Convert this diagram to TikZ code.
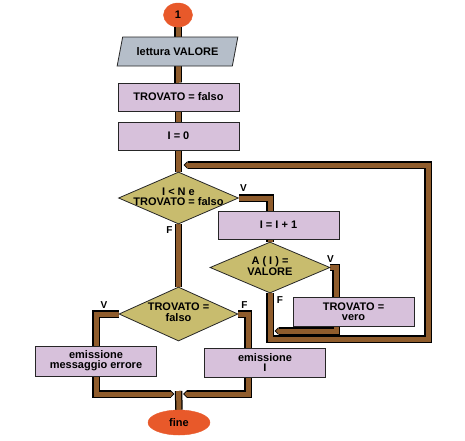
\documentclass[tikz,border=0pt]{standalone}
\usepackage{fontspec}
\setmainfont{Liberation Sans}
\usetikzlibrary{shapes.geometric,arrows.meta,backgrounds}
\definecolor{pipebrown}{HTML}{8F5C2C}
\definecolor{boxlilac}{HTML}{D7C1DB}
\definecolor{diaolive}{HTML}{C8BC6E}
\definecolor{iogray}{HTML}{B5BEC9}
\definecolor{termorange}{HTML}{E8592A}
\newcommand\flowfont{\fontsize{11}{10}\selectfont\bfseries}
\newcommand\lblfont{\fontsize{10}{10}\selectfont\bfseries}
\newcommand\diatext[2][10]{\makebox[0pt]{\fontsize{11}{#1}\selectfont\bfseries\begin{tabular}{@{}c@{}}#2\end{tabular}}}
\tikzset{
  boxnode/.style={rectangle, draw=black!85, line width=0.8pt, fill=boxlilac,
    minimum width=121pt, minimum height=28pt, inner sep=0pt, align=center, font=\flowfont},
  dianode/.style={diamond, draw=black!85, line width=0.8pt, fill=diaolive,
    minimum width=120pt, minimum height=52pt, inner sep=0pt},
  ionode/.style={trapezium, trapezium left angle=63, trapezium right angle=117,
    trapezium stretches=true, draw=black!85, line width=0.8pt, fill=iogray,
    minimum width=121pt, minimum height=29pt, inner sep=0pt, font=\flowfont},
  termnode/.style={ellipse, fill=termorange, draw=termorange, inner sep=0pt, font=\flowfont},
  lblnode/.style={inner sep=0pt, font=\lblfont},
  pipeout/.style={draw=black, line width=7.5pt, line join=miter},
  pipein/.style={draw=pipebrown, line width=5pt, line join=miter},
}
\newcommand\pipe[1]{\draw[pipeout]#1;\draw[pipein]#1;}
\newcommand\pipetip[1]{\draw[pipeout,-{Triangle[length=4pt,width=7.5pt,line width=0pt]}]#1;\draw[pipein,shorten >=1.3pt,-{Triangle[length=2.6pt,width=5pt,line width=0pt]}]#1;}
\begin{document}
\begin{tikzpicture}[x=1pt,y=-1pt]
\useasboundingbox (0,0) rectangle (465,440);
% nodes
\node[termnode, minimum width=29pt, minimum height=24pt] (start) at (178,15) {1};
\node[ionode] (read) at (177.5,51.5) {lettura VALORE};
\node[boxnode] (b1) at (178.5,97) {TROVATO = falso};
\node[boxnode] (b2) at (178.5,136) {I = 0};
\node[dianode] (d1) at (178.5,198) {\diatext[8.5]{I < N e\\TROVATO = falso}};
\node[boxnode] (inc) at (278.5,225) {I = I + 1};
\node[dianode, minimum height=51pt] (d2) at (270,267.5) {\diatext{A ( I ) =\\VALORE}};
\node[boxnode, minimum height=29pt] (vero) at (353.5,311.5) {TROVATO =\\vero};
\node[dianode, minimum width=119pt, minimum height=54pt] (d3) at (178.5,314) {\diatext{TROVATO =\\falso}};
\node[boxnode, minimum height=30pt] (err) at (96,361) {emissione\\messaggio errore};
\node[boxnode, minimum height=29pt] (out) at (265,362.5) {emissione\\I};
\node[termnode, minimum width=62pt, minimum height=25pt] (fine) at (179,422.5) {fine};
% labels
\node[lblnode] (lv1) at (243.5,188.5) {V};
\node[lblnode] (lf1) at (169.5,230) {F};
\node[lblnode] (lv2) at (330.5,259.5) {V};
\node[lblnode] (lf2) at (280,300) {F};
\node[lblnode] (lv3) at (104,305) {V};
\node[lblnode] (lf3) at (244.5,305) {F};
% coordinates
\coordinate (c1) at (270,198);
\coordinate (v2) at (336,267.5);
\coordinate (j2) at (274.5,331);
\coordinate (lpb) at (270,339);
\coordinate (lpr) at (428,339);
\coordinate (lpt) at (428,165);
\coordinate (lpin) at (183.5,165);
\coordinate (fR) at (248,314);
\coordinate (jn) at (178.5,391);
\coordinate (jl) at (174.5,394);
\coordinate (jr) at (183,394);
\begin{pgfonlayer}{background}
\pipe{(start.south) -- (read.south -| start.south)}
\pipe{(read.south -| start.south) -- (b1.north -| start.south) -- (b1.north)}
\pipe{(b1.south) -- (b2.north)}
\pipe{(b2.south) -- (d1.north)}
\pipe{(d1.east) -- (c1) -- (c1 |- inc.north)}
\pipe{(inc.south -| d2.north) -- (d2.north)}
\pipe{(d2.east) -- (v2) -- (v2 |- vero.north)}
\pipetip{(v2 |- vero.south) -- (v2 |- j2) -- (j2)}
\pipetip{(d2.south) -- (lpb) -- (lpr) -- (lpt) -- (lpin)}
\pipe{(d1.south) -- (d3.north)}
\pipe{(d3.west) -| (err.north)}
\pipe{(d3.east) -- (fR) -- (fR |- out.north)}
\pipetip{(err.south) -- (err.south |- jl) -- (jl)}
\pipetip{(fR |- out.south) -- (fR |- jr) -- (jr)}
\pipe{(jn) -- (fine.north)}
\end{pgfonlayer}
\end{tikzpicture}
\end{document}
